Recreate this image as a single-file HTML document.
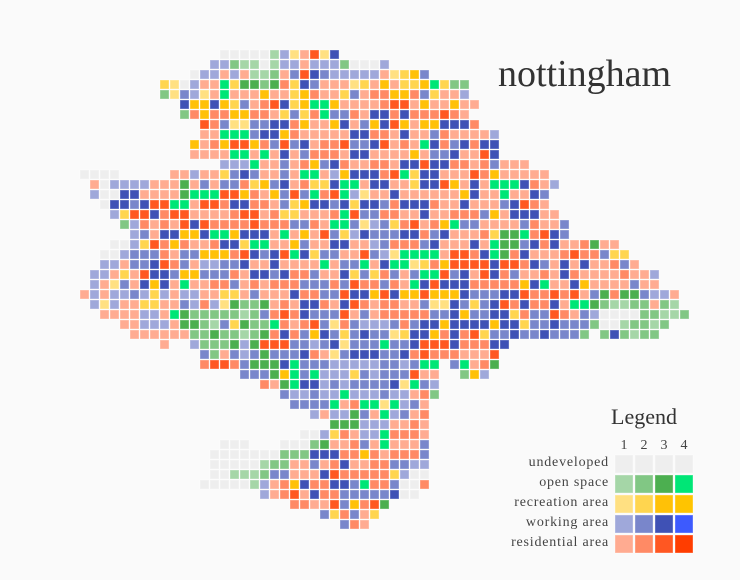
<!DOCTYPE html>
<html><head><meta charset="utf-8"><style>
html,body{margin:0;padding:0;background:#fafafa;}
svg{display:block;font-family:"Liberation Serif",serif;}
</style></head><body>
<svg id="chart" width="740" height="580" viewBox="0 0 740 580" xmlns="http://www.w3.org/2000/svg">
<rect x="0" y="0" width="740" height="580" fill="#fafafa"/>
<text x="498" y="86" font-size="38" fill="#333">nottingham</text>
<g id="cells"></g>
<g id="legend">
<text x="644" y="424" font-size="22" fill="#333" text-anchor="middle">Legend</text>
</g>
</svg>
<script>
const categories = ["undeveloped","open space","recreation area","working area","residential area"];
const levels = ["1","2","3","4"];
const codeKeys = ["uuuu","gGHE","yYoO","wWbB","rRsS"];
const palette = [
 ["#eeeeee","#eeeeee","#eeeeee","#eeeeee"],
 ["#a5d6a7","#81c784","#4caf50","#00e676"],
 ["#ffe082","#ffd54f","#ffc107","#ffc400"],
 ["#9fa8da","#7986cb","#3f51b5","#3d5afe"],
 ["#ffab91","#ff8a65","#ff5722","#ff3d00"]
];
const rowStarts = [14,13,11,8,8,10,10,12,12,11,11,14,0,1,1,2,3,4,5,3,2,2,1,1,0,1,2,4,5,8,12,12,16,18,20,21,23,25,22,14,13,13,13,12,18,21,24,26];
const rowCodes = [
"uuuuugwyrsyb",
"wwGggugwwrwwwGuuuw",
"uwwrwrggGrWsbWwwwwwryYoW",
"YyuwrrEYHHGHRYbWrrryYrorYYoEYGG",
"GyWwyrErrrorrYoRrrYWrRRooRWYrrw",
"booboYWrRsbYoEEorrrrRssrorrorr",
"GRoRRooRRrYWYREWWRrbbRbRRRsRr",
"sRWyyWWbbRorrobrWobsoroobbbR",
"rrEEEWbboRrrrrrbbRRrbrrWRrrrrw",
"orRossoRWsWbrRRsWWbsrRrEbRWbRbb",
"rrrrEErErbrWRRRrbbrrrrorWWbrrsb",
"wwwErrWrRoWbRrrRRrbbsbbRRrRWrrr",
"uuuu.....rrwrrYWbWrrWrEErwobbbRsEYbbrrrsRorrrrr",
"ruwwwwrrrHrWrWWRYoWbrRYYbEErbbrrYbbsorbrEEEbRrw",
"wuubbrrrrHEEEssoRroWsWERsEwyrrbrrrrrrobrrErrbW",
"ubbWbssEErssRbbRRrWYobbWbYbbWRbbbRrrbrrrWbsRr",
"wYssbRssrrrrRssrRYYrrrREsWWRRrrbrrRRRWorbbbrr",
"GwRrRrsbsRRRRsRRRWWRrEEWywWYRsrRoEWWrrrrWRrrW",
"wWrbboobEEobbbrErorsWYwbWWWbbRWbrrrRYHHERsbW",
"uuwYsRoRrrRbbYEErroWrrbbrrwWRRRWbrrrbrEHHWbRbrrRHrr",
"uuwWWWRrWWoooRsbWbsEbYWWrrsWwyEEEErssRbEHRbrrrRsRRWYY",
"wwrWWbsRWrwwWWbrrbrrrrErWWErbEEyYRossssbssRbWrbrbrrRWr",
"wwrYrsbbWooWWWRrbbWbRRWrrbYWYRWrWEEsWbrsbRWrrRrbRrrrrRrrw",
"wryWrbobrErrRRWrRrRRRWWWRWsRRWRrEbsbbbRRRRRobErrborrrrWrr",
"rwrwwWwYwrwwrrYYrWrrrbRRWWsbbosboosooobWWWbbsRRsRsrWHRHHWwwr",
"wywrrYYrrWwRwyHGGHrRrbbRrbsRrRRrrWyybWYWbsRbRRbrEEHGggGGrGg",
"rrrrwwrEHGGGGGgGWRsRbWWWsrWrRRRRRWWboWWbbYRWWsRrWwuuuuGGggG",
"rrwwwrHHGgWYHGGERrRsWyRWwwwWRWbbobbbbobbYWWbWWWGuugGGgG",
"rrrrrrGGHGGgGHRbRWobWYWbWWyYbboRbRsYWWbWWbWWWG.GbGgGG",
"r..wGGGHwHsssWWwWbyWWWEWWbsssbRRRbb",
"WGrWwWHWWWbRryWbbbWWbRsRRRrrrs",
"RssRWHHHbEWWWwwwwwWWwWEE.WErRH",
"WWWHoEWEwwwYWwWWWsrr..Gow",
"RrHEbbwWwWWWWbyEWw",
"WwwWwwEwwwWwwrRG",
"WWWWErREEyEwWr",
"wrwwHWrEwWrR",
"HHHwwwrrRr",
"uuwYRrwwERRRr",
"uuu...uuuGHrrRWrErrrW",
"uuuuuuuGGGbbbRRoRrRRRW",
"uuuuugGGrrWrRbrrRRWWww",
"uugggGWWrrrbsRRRRRYwuu",
"uuuuugwrRobRRbbWERRWuuR",
"wrRsrbRRWWWWWbuu",
"RRrrsWoRsH",
"WYRWrY",
"WRr"
];
const NS = "http://www.w3.org/2000/svg";
const X0 = 80, Y0 = 50, PITCH = 10, SIZE = 9;
function xScale(col){ return X0 + col*PITCH; }
function yScale(row){ return Y0 + row*PITCH; }
function colorFor(ch){
  for (let i=1;i<codeKeys.length;i++){ const j = codeKeys[i].indexOf(ch); if (j>=0) return palette[i][j]; }
  if (ch === 'u') return palette[0][0];
  return null;
}
const g = document.getElementById('cells');
rowCodes.forEach(function(code, r){
  for (let k=0;k<code.length;k++){
    const c = colorFor(code[k]);
    if (!c) continue;
    const rect = document.createElementNS(NS,'rect');
    rect.setAttribute('x', xScale(rowStarts[r]+k));
    rect.setAttribute('y', yScale(r));
    rect.setAttribute('width', SIZE);
    rect.setAttribute('height', SIZE);
    rect.setAttribute('fill', c);
    rect.setAttribute('stroke', 'rgba(255,255,255,0.35)');
    rect.setAttribute('stroke-width', '1');
    
    
    g.appendChild(rect);
  }
});
const lg = document.getElementById('legend');
levels.forEach(function(l, j){
  const t = document.createElementNS(NS,'text');
  t.setAttribute('x', 624 + j*20);
  t.setAttribute('y', 449);
  t.setAttribute('font-size', '14');
  t.setAttribute('fill', '#444');
  t.setAttribute('text-anchor', 'middle');
  t.textContent = l;
  
  
  lg.appendChild(t);
});
categories.forEach(function(cat, i){
  const t = document.createElementNS(NS,'text');
  t.setAttribute('x', 609);
  t.setAttribute('y', 466 + i*20);
  t.setAttribute('font-size', '14');
  t.setAttribute('fill', '#444');
  t.setAttribute('text-anchor', 'end');
  t.setAttribute('letter-spacing', '0.8');
  t.textContent = cat;
  
  
  lg.appendChild(t);
  levels.forEach(function(l, j){
    const r = document.createElementNS(NS,'rect');
    r.setAttribute('x', 615 + j*20);
    r.setAttribute('y', 455 + i*20);
    r.setAttribute('width', 18);
    r.setAttribute('height', 18);
    r.setAttribute('fill', palette[i][j]);
    r.setAttribute('stroke', 'rgba(255,255,255,0.35)');
    
    
    lg.appendChild(r);
  });
});
</script>
</body></html>
